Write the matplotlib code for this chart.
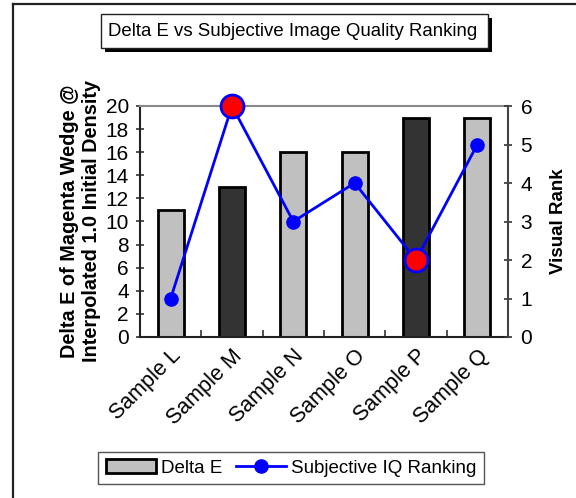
import matplotlib
matplotlib.use("Agg")
import matplotlib.pyplot as plt
from matplotlib.lines import Line2D
from matplotlib.patches import Rectangle

plt.rcParams['font.family'] = ['Liberation Sans', 'DejaVu Sans']

samples = ["Sample L", "Sample M", "Sample N", "Sample O", "Sample P", "Sample Q"]
delta_e = [11, 13, 16, 16, 19, 19]
visual_rank = [1, 6, 3, 4, 2, 5]
bar_colors = ["#c0c0c0", "#333333", "#c0c0c0", "#c0c0c0", "#333333", "#c0c0c0"]
highlight = [False, True, False, False, True, False]
left_ticks = [0, 2, 4, 6, 8, 10, 12, 14, 16, 18, 20]
right_ticks = [0, 1, 2, 3, 4, 5, 6]

W, H = 576, 498
fig = plt.figure(figsize=(W / 100, H / 100), dpi=100)

def px(x, y):
    return x / W, 1 - y / H

# outer frame (left and top edges)
fig.add_artist(Line2D([13 / W, 13 / W], [0, 1 - 4 / H], transform=fig.transFigure,
                      color="#222222", lw=1.6))
fig.add_artist(Line2D([13 / W, 1], [1 - 4 / H, 1 - 4 / H], transform=fig.transFigure,
                      color="#222222", lw=1.6))

ax = fig.add_axes([140 / W, 1 - 337 / H, (508 - 140) / W, (337 - 106) / H])
x = list(range(len(samples)))
bars = ax.bar(x, delta_e, width=0.42, color=bar_colors, edgecolor="black",
              linewidth=2.0, label="Delta E", zorder=2)
ax.set_xlim(-0.5, len(samples) - 0.5)
ax.set_ylim(0, 20)
ax.set_yticks(left_ticks)
ax.set_xticks(x)
ax.set_xticklabels(samples, rotation=45, ha="right", va="top", rotation_mode="anchor",
                   fontsize=15.5)
ax.set_xticks([i + 0.5 for i in x[:-1]], minor=True)
ax.tick_params(axis="x", which="major", length=0, pad=6)
ax.tick_params(axis="x", which="minor", direction="in", length=5, width=1.2, color="#333333")
ax.tick_params(axis="y", direction="inout", length=6, width=1.2, labelsize=15, pad=5,
               color="#333333")
ax.spines["top"].set_color("#888888")
ax.spines["top"].set_linewidth(1.5)
ax.spines["left"].set_linewidth(1.5)
ax.spines["left"].set_color("#222222")
ax.spines["bottom"].set_linewidth(1.5)
ax.spines["bottom"].set_color("#222222")
ax.spines["right"].set_visible(False)
ax.set_ylabel("Delta E of Magenta Wedge @\nInterpolated 1.0 Initial Density",
              fontsize=14.3, fontweight="bold", labelpad=3, linespacing=1.25)

ax2 = ax.twinx()
ax2.set_ylim(0, 6)
ax2.set_yticks(right_ticks)
ax2.tick_params(axis="y", direction="inout", length=6, width=1.2, labelsize=15, pad=6,
                color="#333333")
for s in ["top", "left", "bottom"]:
    ax2.spines[s].set_visible(False)
ax2.spines["right"].set_linewidth(1.5)
ax2.spines["right"].set_color("#444444")
ax2.set_ylabel("Visual Rank", fontsize=13.5, fontweight="bold", labelpad=13)

line, = ax2.plot(x, visual_rank, color="#0000ff", lw=2.0, marker="o", markersize=9.5,
                 markerfacecolor="#0000ff", markeredgecolor="#0000ff",
                 label="Subjective IQ Ranking", zorder=3, clip_on=False)
hx = [xi for xi, h in zip(x, highlight) if h]
hy = [r for r, h in zip(visual_rank, highlight) if h]
ax2.plot(hx, hy, linestyle="none", marker="o", markersize=16.5, markerfacecolor="#ff0000",
         markeredgecolor="#0000ff", markeredgewidth=2.0, zorder=4, clip_on=False)

# title box with drop shadow
fig.add_artist(Rectangle(px(105, 52), 387 / W, 34 / H, transform=fig.transFigure,
                         facecolor="black", edgecolor="black", lw=0))
fig.add_artist(Rectangle(px(101, 48), 387 / W, 34 / H, transform=fig.transFigure,
                         facecolor="white", edgecolor="#222222", lw=1.0))
fig.text(*px(293, 31.5), "Delta E vs Subjective Image Quality Ranking",
         ha="center", va="center", fontsize=13.4)

leg = fig.legend(handles=[bars, line], labels=["Delta E", "Subjective IQ Ranking"],
                 loc="center", bbox_to_anchor=px(291, 468), ncol=2, fontsize=13.5,
                 frameon=True, fancybox=False, edgecolor="#555555", framealpha=1,
                 handlelength=2.65, handletextpad=0.27, columnspacing=0.75,
                 borderpad=0.4, borderaxespad=0)
leg.get_frame().set_linewidth(1.0)

fig.savefig("out.png", dpi=100)
